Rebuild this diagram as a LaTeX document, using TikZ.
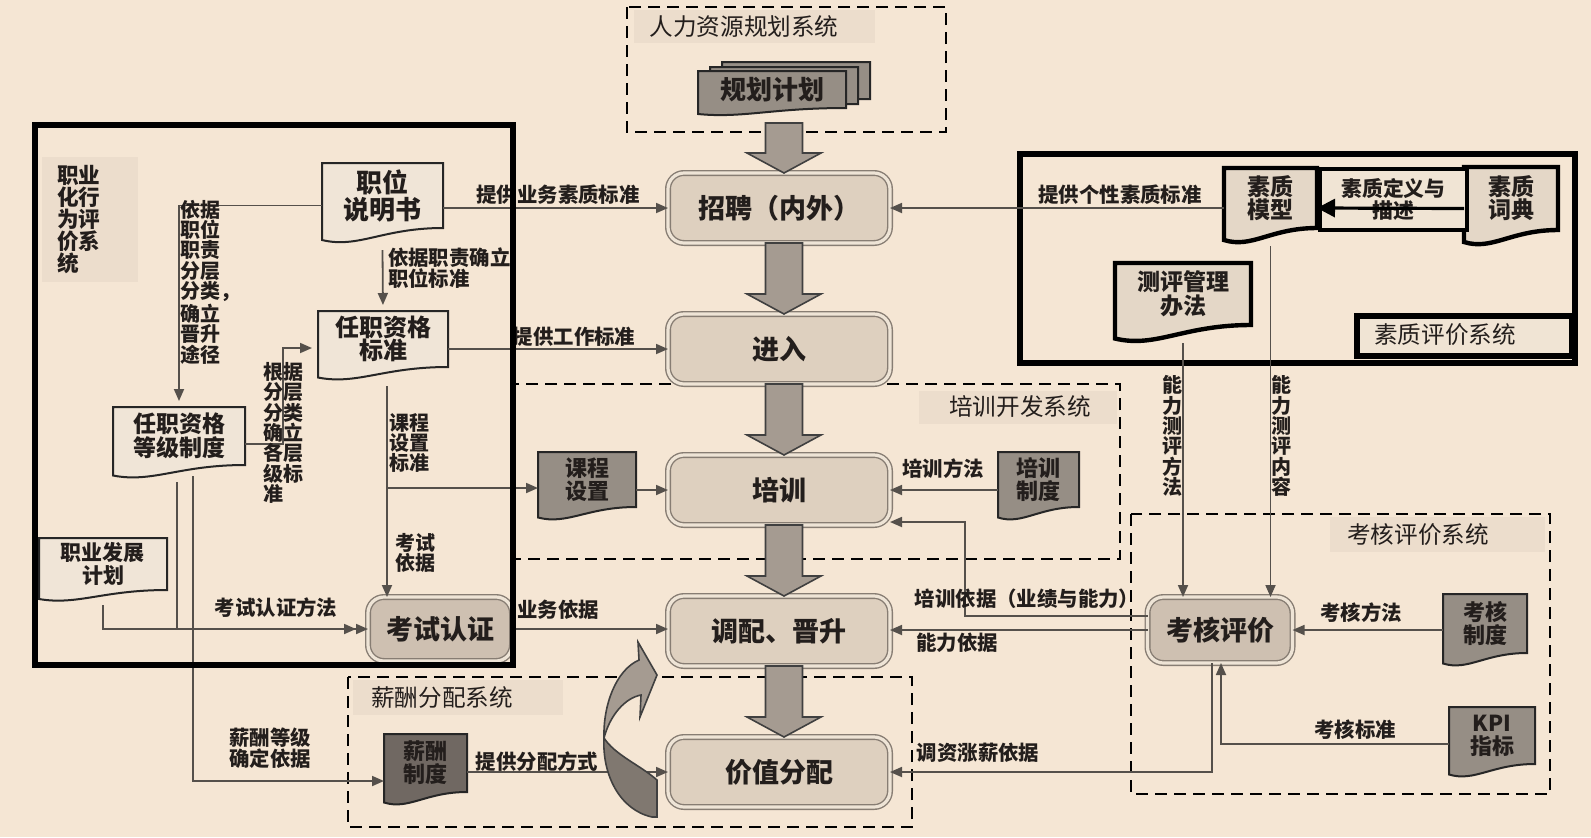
\documentclass[tikz,border=0pt]{standalone}
\usepackage{fontspec}
\setmainfont{Noto Sans CJK SC}
\usetikzlibrary{arrows.meta,calc}
\pgfdeclarelayer{bgpage}
\pgfdeclarelayer{back}
\pgfsetlayers{bgpage,back,main}
\definecolor{bgc}{RGB}{245,230,212}
\definecolor{shadec}{RGB}{236,221,204}
\definecolor{mainfill}{RGB}{222,208,191}
\definecolor{mainedge}{RGB}{135,125,115}
\definecolor{mainin}{RGB}{238,228,214}
\definecolor{keyfill}{RGB}{206,192,177}
\definecolor{docl}{RGB}{240,229,215}
\definecolor{docm}{RGB}{228,215,199}
\definecolor{docd}{RGB}{150,142,133}
\definecolor{docx}{RGB}{112,104,98}
\definecolor{arrfill}{RGB}{165,155,145}
\definecolor{arrdark}{RGB}{128,120,112}
\definecolor{ln}{RGB}{85,80,75}
\definecolor{txt}{RGB}{35,30,28}
\definecolor{rlab}{RGB}{240,228,212}
\tikzset{
  every node/.style={text=txt, inner sep=0pt, outer sep=0pt},
  mainbox/.style={rounded corners=8pt, draw=mainedge, double=mainin, double distance=1.6pt, line width=0.7pt, fill=mainfill, font=\fontsize{13.5pt}{14pt}\selectfont\bfseries, align=center},
  keybox/.style={mainbox, fill=keyfill},
  doc/.style={align=center, font=\fontsize{11.5pt}{11.5pt}\selectfont\bfseries},
  lab/.style={font=\fontsize{10.2pt}{10.2pt}\selectfont\bfseries, align=left},
  vlab/.style={font=\fontsize{10pt}{10.2pt}\selectfont\bfseries, align=center},
  syslab/.style={font=\fontsize{11.8pt}{12pt}\selectfont},
  conn/.style={draw=ln, line width=0.9pt, -{Triangle[length=6pt,width=5pt]}},
  dconn/.style={draw=ln, line width=0.9pt, -{Triangle[length=6pt,width=5pt] Triangle[length=6pt,width=5pt]}},
  plainln/.style={draw=ln, line width=0.9pt},
  bigconn/.style={draw=black, line width=1.6pt, -{Triangle[length=9pt,width=9pt]}},
  sysframe/.style={draw=black, line width=1.3pt, dash pattern=on 6pt off 3.5pt},
  thickframe/.style={draw=black, line width=3pt},
  docL/.style={fill=docl, draw=black!85, line width=1pt},
  docM/.style={fill=docm, draw=black, line width=2.2pt},
  docD/.style={fill=docd, draw=black!85, line width=1pt},
  docX/.style={fill=docx, draw=black!85, line width=1pt},
  barrow/.style={fill=arrfill, draw=black!75, line width=0.8pt},
  barrowdk/.style={fill=arrdark, draw=black!75, line width=0.8pt},
}
\newcommand\docshape[3][7pt]{%
  \begin{pgfonlayer}{back}
  \path[#3] (#2.north west) -- (#2.north east) -- (#2.south east)
    .. controls ($(#2.south east)!0.5!(#2.south west)$) and ($(#2.south west)!0.3!(#2.south east)+(0pt,-1.3*#1)$)
    .. ($(#2.south west)+(0pt,-0.75*#1)$) -- cycle;
  \end{pgfonlayer}}
\newcommand\blockarr[2]{%
  \path[barrow] let \p1=(#1), \p2=(#2) in
    (\x2+2.5pt-9.25pt,\y1) -- (\x2+2.5pt-9.25pt,\y2+10pt) -- (\x2+2.5pt-18.5pt,\y2+10pt)
    -- (\x2+2.5pt,\y2) -- (\x2+2.5pt+18.5pt,\y2+10pt) -- (\x2+2.5pt+9.25pt,\y2+10pt)
    -- (\x2+2.5pt+9.25pt,\y1) -- cycle;}
\begin{document}
\begin{tikzpicture}[x=0.5pt,y=-0.5pt]
\useasboundingbox (0,0) rectangle (1591,837);
\begin{pgfonlayer}{bgpage}
\fill[bgc] (0,0) rectangle (1591,837);
\fill[shadec] (42,157) rectangle (138,282);
\fill[shadec] (634,10) rectangle (875,43);
\fill[shadec] (919,391) rectangle (1117,424);
\fill[shadec] (353,680) rectangle (563,715);
\fill[shadec] (1330,517) rectangle (1545,552);
\draw[sysframe] (627,7) rectangle (946,132);
\draw[sysframe] (513,384) rectangle (1120,559);
\draw[sysframe] (348,677) rectangle (912,827);
\draw[sysframe] (1131,514) rectangle (1550,794);
\end{pgfonlayer}

% system labels
\node[syslab] (hrl) at (744,27) {人力资源规划系统};
\node[syslab] (trl) at (1020,407) {培训开发系统};
\node[syslab] (xcl) at (442,698) {薪酬分配系统};
\node[syslab] (khl) at (1418,535) {考核评价系统};
\node[syslab, anchor=west, align=left, font=\fontsize{10.8pt}{11pt}\selectfont\bfseries] (ll) at (57,220) {职业\\化行\\为评\\价系\\统};

% right frame
\draw[thickframe] (1020,154) rectangle (1575,363);
\filldraw[fill=rlab, draw=black, line width=3pt] (1357,316) rectangle (1572,356);
\node[syslab] (rlt) at (1445,335) {素质评价系统};

% main boxes
\node[mainbox, minimum width=111pt, minimum height=35pt] (zp) at (779,208) {招聘（内外）};
\node[mainbox, minimum width=111pt, minimum height=35pt] (jr) at (779,349) {进入};
\node[mainbox, minimum width=111pt, minimum height=35pt] (px) at (779,490) {培训};
\node[mainbox, minimum width=111pt, minimum height=35pt] (dp) at (779,631) {调配、晋升};
\node[mainbox, minimum width=111pt, minimum height=35pt] (jz) at (779,772) {价值分配};
\node[keybox, minimum width=72pt, minimum height=32pt] (ks) at (440,629) {考试认证};
\node[keybox, minimum width=72.5pt, minimum height=33pt] (kh) at (1220,630) {考核评价};

% documents
\node[doc, minimum width=74pt, minimum height=18.5pt] (ghjh3) at (796,80.5) {};
\node[doc, minimum width=74pt, minimum height=18.5pt] (ghjh2) at (784,85.5) {};
\node[doc, minimum width=74pt, minimum height=18.5pt, font=\fontsize{13pt}{13pt}\selectfont\bfseries] (ghjh) at (772,89.5) {规划计划};
\node[doc, minimum width=60.5pt, minimum height=32.5pt, font=\fontsize{13pt}{13.5pt}\selectfont\bfseries] (zd) at (382.5,195.5) {职位\\说明书};
\node[doc, minimum width=65pt, minimum height=28pt, font=\fontsize{12pt}{11.5pt}\selectfont\bfseries] (zb) at (383,339) {任职资格\\标准};
\node[doc, minimum width=66pt, minimum height=29pt, font=\fontsize{11.5pt}{11pt}\selectfont\bfseries] (zg) at (179,436) {任职资格\\等级制度};
\node[doc, minimum width=64pt, minimum height=26pt, font=\fontsize{10.5pt}{10pt}\selectfont\bfseries] (zf) at (103,564) {职业发展\\计划};
\node[doc, minimum width=49pt, minimum height=27.5pt, font=\fontsize{11pt}{11.5pt}\selectfont\bfseries] (kcsz) at (587,479.5) {课程\\设置};
\node[doc, minimum width=40.5pt, minimum height=27.5pt, font=\fontsize{11pt}{11.5pt}\selectfont\bfseries] (pxzd) at (1038.5,479.5) {培训\\制度};
\node[doc, minimum width=41.5pt, minimum height=29pt, font=\fontsize{11pt}{11.5pt}\selectfont\bfseries] (xczd) at (425.5,763) {薪酬\\制度};
\node[doc, minimum width=42pt, minimum height=29.5pt, font=\fontsize{11pt}{11.5pt}\selectfont\bfseries] (khzd) at (1485,623.5) {考核\\制度};
\node[doc, minimum width=43pt, minimum height=28.5pt, font=\fontsize{11pt}{11.5pt}\selectfont\bfseries] (kpi) at (1492,735.5) {KPI\\指标};
\node[doc, minimum width=46.5pt, minimum height=30pt] (szmx) at (1270.5,198) {素质\\模型};
\node[doc, minimum width=47pt, minimum height=31.5pt] (szcd) at (1511,198.5) {素质\\词典};
\node[doc, minimum width=68pt, minimum height=31pt, font=\fontsize{11.5pt}{10.5pt}\selectfont\bfseries] (cpgl) at (1183,294) {测评管理\\办法};
\node[draw=black, line width=2.2pt, fill=rlab, minimum width=73.5pt, minimum height=30.5pt, align=center, font=\fontsize{10.4pt}{9pt}\selectfont\bfseries] (szdy) at (1393.5,199.5) {素质定义与\\描述};

\docshape[4pt]{ghjh3}{docD}
\docshape[4pt]{ghjh2}{docD}
\docshape[4pt]{ghjh}{docD}
\docshape[8pt]{zd}{docL}
\docshape[7pt]{zb}{docL}
\docshape[7pt]{zg}{docL}
\docshape[6pt]{zf}{docL}
\docshape[7pt]{kcsz}{docD}
\docshape[7pt]{pxzd}{docD}
\docshape[7pt]{xczd}{docX}
\docshape[7pt]{khzd}{docD}
\docshape[7pt]{kpi}{docD}
\docshape[8pt]{szmx}{docM}
\docshape[8pt]{szcd}{docM}
\docshape[9pt]{cpgl}{docM}

% block arrows
\blockarr{$(ghjh.south)+(0pt,-7.5pt)$}{zp.north}
\blockarr{zp.south}{jr.north}
\blockarr{jr.south}{px.north}
\blockarr{px.south}{dp.north}
\blockarr{dp.south}{jz.north}

% connectors in left frame
\draw[conn, shorten >=3pt] ([yshift=-5pt]zd.west) -| (zg.north);
\node[vlab, anchor=west, align=left] (l3) at (180,282) {依据\\职位\\职责\\分层\\分类，\\确立\\晋升\\途径};
\draw[conn, shorten >=3pt] ([yshift=-11pt]zd.south) -- (zb.north);
\node[lab] (l2) at (388,268) [anchor=west] {依据职责确立\\职位标准};
\coordinate (c3) at (283,348);
\draw[conn, shorten >=3pt] ([yshift=-4pt]zg.east) -| (c3) -- (c3 -| zb.west);
\node[vlab, anchor=west, align=left] (l4) at (263,433) {根据\\分层\\分类\\确立\\各层\\级标\\准};
\coordinate (c4a) at (387,386);
\coordinate (c4) at (387,488);
\draw[conn] (c4a) -- (c4 |- ks.north);
\draw[conn] (c4) -- (c4 -| kcsz.west);
\node[vlab, anchor=west, align=left] (l6) at (389,443) {课程\\设置\\标准};
\node[vlab, anchor=west, align=left] (l7) at (395,553) {考试\\依据};
\coordinate (c5a) at (177,482);
\draw[plainln] (c5a) -- (c5a |- ks.west);
\draw[dconn] ([yshift=-7.5pt]zf.south) |- (ks.west);
\node[lab] (l8) at (276,608) {考试认证方法};
\coordinate (c5b) at (193,476);
\coordinate (c5c) at (193,781);
\draw[conn] (c5b) -- (c5c) -- (c5c -| xczd.west);
\node[lab, align=center] (l9) at (270,748) {薪酬等级\\确定依据};

% connectors to main column
\draw[conn] (zd.east |- zp.west) -- (zp.west);
\node[lab] (l1) at (558,195) {提供业务素质标准};
\draw[conn] (zb.east |- jr.west) -- (jr.west);
\node[lab] (l5) at (574,337) {提供工作标准};
\draw[conn] (ks.east) -- (ks.east -| dp.west);
\node[lab] (l10) at (558,610) {业务依据};
\draw[conn] (kcsz.east |- px.west) -- (px.west);
\draw[conn] (pxzd.west |- px.east) -- (px.east);
\node[lab] (l12) at (943,469) {培训方法};
\draw[conn] (xczd.east |- jz.west) -- (jz.west);
\node[lab] (l11) at (537,762) {提供分配方式};

% curved arrow (drawn over the distribution line)
\path[barrowdk] (604,738) .. controls (602,775) and (620,810) .. (652,817) -- (657,817)
  -- (657,780) .. controls (640,765) and (615,755) .. (604,738) -- cycle;
\path[barrow] (604,738) .. controls (603,705) and (616,670) .. (639,660) -- (638,642)
  -- (657,675) -- (640,717) -- (641,695) .. controls (625,698) and (610,715) .. (604,738) -- cycle;

% right side
\draw[conn] (szmx.west |- zp.east) -- (zp.east);
\node[lab] (l13) at (1120,195) {提供个性素质标准};
\draw[bigconn] ([yshift=-5pt]szcd.west) -- ([yshift=-5pt]szmx.east);
\draw[conn] ([yshift=-9pt]cpgl.south) -- (cpgl.south |- kh.north);
\node[vlab] (l14) at (1172,436) {能\\力\\测\\评\\方\\法};
\draw[conn] ([yshift=-9pt]szmx.south) -- (szmx.south |- kh.north);
\node[vlab] (l15) at (1281,436) {能\\力\\测\\评\\内\\容};
\draw[conn] (kh.west) -- (kh.west -| dp.east);
\node[lab] (l17) at (957,643) {能力依据};
\coordinate (c16) at (965,522);
\draw[conn] ([yshift=7pt]kh.west) -| (c16) -- (c16 -| px.east);
\node[lab] (l16) at (1027,599) {培训依据（业绩与能力）};
\draw[conn] (khzd.west |- kh.east) -- (kh.east);
\node[lab] (l19) at (1361,613) {考核方法};
\coordinate (c18) at (1221,744);
\draw[conn] (c18 -| kpi.west) -- (c18) -- (c18 |- kh.south);
\node[lab] (l20) at (1355,730) {考核标准};
\coordinate (c19) at (1212,772);
\draw[conn] (c19 |- kh.south) -- (c19) -- (c19 -| jz.east);
\node[lab] (l18) at (978,753) {调资涨薪依据};

% left thick frame on top
\draw[thickframe] (35,125) rectangle (513,665);
\end{tikzpicture}
\end{document}
